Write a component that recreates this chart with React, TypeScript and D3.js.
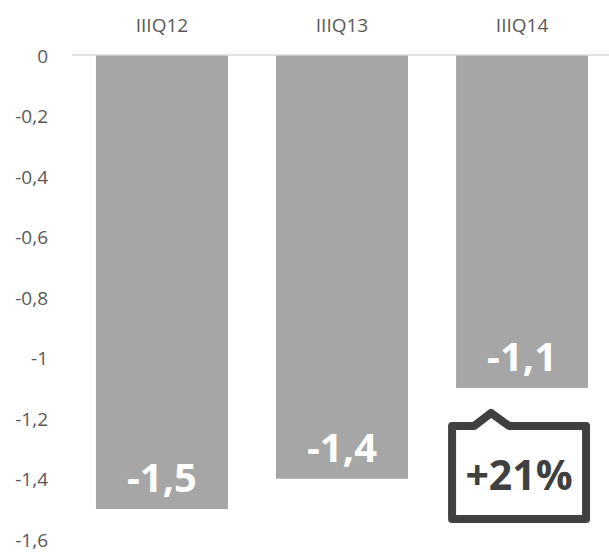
import { useEffect, useRef } from 'react';
import * as d3 from 'd3';

const categories = ['IIIQ12', 'IIIQ13', 'IIIQ14'];
const values = [-1.5, -1.4, -1.1];
const valueLabels = ['-1,5', '-1,4', '-1,1'];
const yTicks = [0, -0.2, -0.4, -0.6, -0.8, -1, -1.2, -1.4, -1.6];
const changeLabel = '+21%';

export default function App() {
  const ref = useRef<SVGSVGElement>(null);

  useEffect(() => {
    if (!ref.current) return;
    const svg = d3.select(ref.current);
    svg.selectAll('*').remove();

    const width = 609;
    const height = 553;
    const font = "'Open Sans', Calibri, sans-serif";

    svg.attr('width', width).attr('height', height);

    const x = d3.scaleBand()
      .domain(categories)
      .range([72, 612])
      .paddingInner(0.267)
      .paddingOuter(0.133);

    const y = d3.scaleLinear()
      .domain([0, -1.6])
      .range([55, 539.3]);

    // tick labels
    svg.append('g')
      .selectAll('text')
      .data(yTicks)
      .join('text')
      .attr('x', 48)
      .attr('y', d => y(d) + 1)
      .attr('dy', '0.35em')
      .attr('text-anchor', 'end')
      .style('font-family', font)
      .style('font-size', '19px')
      .style('fill', '#595959')
      .text(d => d3.format('')(d).replace('.', ',').replace('−', '-'));

    // category labels on top
    svg.append('g')
      .selectAll('text')
      .data(categories)
      .join('text')
      .attr('x', d => x(d)! + x.bandwidth() / 2)
      .attr('y', 25)
      .attr('dy', '0.35em')
      .attr('text-anchor', 'middle')
      .style('font-family', font)
      .style('font-size', '19px')
      .style('fill', '#595959')
      .text(d => d);

    // bars
    svg.append('g')
      .selectAll('rect')
      .data(values)
      .join('rect')
      .attr('x', (d, i) => x(categories[i])!)
      .attr('width', x.bandwidth())
      .attr('y', y(0))
      .attr('height', d => y(d) - y(0))
      .attr('fill', '#a6a6a6');

    // zero line
    svg.append('line')
      .attr('x1', 72)
      .attr('x2', 609)
      .attr('y1', y(0))
      .attr('y2', y(0))
      .attr('stroke', '#d9d9d9')
      .attr('stroke-width', 1.5);

    // value labels
    svg.append('g')
      .selectAll('text')
      .data(values)
      .join('text')
      .attr('x', (d, i) => x(categories[i])! + x.bandwidth() / 2)
      .attr('y', d => y(d) - 17)
      .attr('text-anchor', 'middle')
      .style('font-family', font)
      .style('font-size', '40px')
      .style('font-weight', 'bold')
      .style('fill', '#ffffff')
      .text((d, i) => valueLabels[i]);

    // callout box under last bar
    const bx = x(categories[2])!;
    const left = bx - 4;
    const right = bx + x.bandwidth() - 2;
    const top = y(values[2]) + 38;
    const bottom = top + 93;
    const path = d3.path();
    path.moveTo(left, top);
    path.lineTo(bx + 18, top);
    path.lineTo(bx + 35, top - 13);
    path.lineTo(bx + 53, top);
    path.lineTo(right, top);
    path.lineTo(right, bottom);
    path.lineTo(left, bottom);
    path.closePath();

    svg.append('path')
      .attr('d', path.toString())
      .attr('fill', '#ffffff')
      .attr('stroke', '#404040')
      .attr('stroke-width', 8)
      .attr('stroke-linejoin', 'round');

    svg.append('text')
      .attr('x', (left + right) / 2)
      .attr('y', bottom - 29)
      .attr('text-anchor', 'middle')
      .style('font-family', font)
      .style('font-size', '41px')
      .style('font-weight', 'bold')
      .style('fill', '#404040')
      .text(changeLabel);
  }, []);

  return (
    <div style={{ position: 'absolute', left: 0, top: 0 }}>
      <svg ref={ref} style={{ display: 'block' }}></svg>
    </div>
  );
}
